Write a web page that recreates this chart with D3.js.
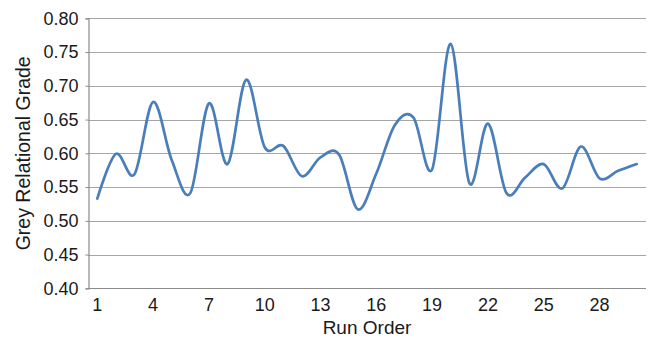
<!DOCTYPE html>
<html>
<head>
<meta charset="utf-8">
<script src="https://cdn.jsdelivr.net/npm/d3@7"></script>
<style>
  html, body { margin: 0; padding: 0; background: #fff; }
  svg { display: block; font-family: "Liberation Sans", Arial, Helvetica, sans-serif; }
</style>
</head>
<body>
<svg id="chart" width="649" height="338"></svg>
<script>
// Grey relational grade for each experimental run
const runs = d3.range(1, 31);
const grades = [
  0.533, 0.599, 0.569, 0.676, 0.590, 0.541, 0.674, 0.584, 0.709, 0.609,
  0.611, 0.566, 0.594, 0.598, 0.517, 0.570, 0.642, 0.653, 0.576, 0.762,
  0.556, 0.644, 0.541, 0.564, 0.584, 0.548, 0.610, 0.563, 0.574, 0.584
];
const xTickLabels = [1, 4, 7, 10, 13, 16, 19, 22, 25, 28];
const yTicks = [0.40, 0.45, 0.50, 0.55, 0.60, 0.65, 0.70, 0.75, 0.80];

const svg = d3.select("#chart");
const margin = { left: 88, right: 3, top: 18.3, bottom: 49.7 };
const W = 649, H = 338;
const x0 = margin.left, x1 = W - margin.right;
const yTop = margin.top, yBot = H - margin.bottom;

const x = d3.scaleBand().domain(runs).range([x0, x1]).paddingInner(0).paddingOuter(0);
const cx = d => x(d) + x.bandwidth() / 2;
const y = d3.scaleLinear().domain([0.40, 0.80]).range([yBot, yTop]);

// horizontal gridlines
svg.append("g")
  .selectAll("line")
  .data(yTicks.filter(v => v > 0.40))
  .join("line")
  .attr("x1", x0).attr("x2", x1)
  .attr("y1", d => Math.round(y(d)) + 0.5).attr("y2", d => Math.round(y(d)) + 0.5)
  .attr("stroke", "#a6a6a6").attr("stroke-width", 1.2);

// y axis
const yAxis = svg.append("g")
  .attr("transform", `translate(${x0 + 0.5},0)`)
  .call(d3.axisLeft(y).tickValues(yTicks).tickFormat(d3.format(".2f")).tickSize(3).tickPadding(7));
yAxis.select(".domain").attr("stroke", "#8c8c8c").attr("stroke-width", 1.2);
yAxis.selectAll(".tick line").attr("stroke", "#8c8c8c");
yAxis.selectAll(".tick text")
  .attr("font-size", 18).attr("fill", "#1a1a1a")
  .attr("font-family", "'Liberation Sans', Arial, sans-serif");

// x axis
const xAxis = svg.append("g")
  .attr("transform", `translate(0,${Math.round(yBot) + 0.5})`)
  .call(d3.axisBottom(x).tickValues(xTickLabels).tickSize(0).tickPadding(10));
xAxis.select(".domain").attr("stroke", "#8c8c8c").attr("stroke-width", 1.2)
  .attr("d", `M${x0},0H${x1}`);
xAxis.selectAll(".tick text")
  .attr("font-size", 18).attr("fill", "#1a1a1a")
  .attr("font-family", "'Liberation Sans', Arial, sans-serif");

// axis titles
svg.append("text")
  .attr("x", (x0 + x1) / 2).attr("y", 334)
  .attr("text-anchor", "middle")
  .attr("font-size", 19).attr("fill", "#1a1a1a")
  .text("Run Order");

svg.append("text")
  .attr("transform", `translate(29.5,${(yTop + yBot) / 2}) rotate(-90)`)
  .attr("text-anchor", "middle")
  .attr("font-size", 19.5).attr("fill", "#1a1a1a")
  .text("Grey Relational Grade");

// smoothed series line
const line = d3.line()
  .x((d, i) => cx(runs[i]))
  .y(d => y(d))
  .curve(d3.curveCardinal.tension(0));

svg.append("path")
  .datum(grades)
  .attr("d", line)
  .attr("fill", "none")
  .attr("stroke", "#4a7ebb")
  .attr("stroke-width", 2.7)
  .attr("stroke-linejoin", "round")
  .attr("stroke-linecap", "round");
</script>
</body>
</html>
